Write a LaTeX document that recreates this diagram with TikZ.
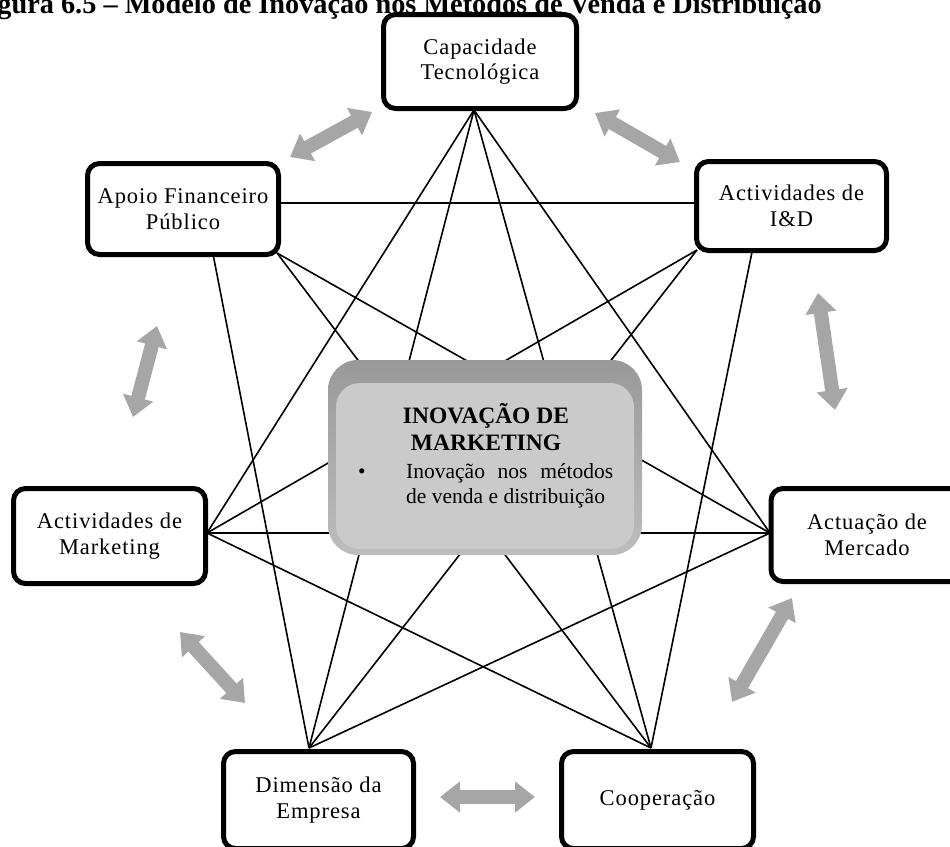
\documentclass[tikz,border=0pt]{standalone}
\usepackage{fontspec}
\setmainfont{Liberation Serif}
\usetikzlibrary{arrows.meta}

\definecolor{flowgray}{HTML}{A6A6A6}
\definecolor{rimtop}{HTML}{999999}
\definecolor{rimbottom}{HTML}{BDBDBD}
\definecolor{facegray}{HTML}{CACACA}

\tikzset{
  factor/.style={draw=black, line width=5pt, rounded corners=12pt, fill=white,
    inner sep=0pt, align=center,
    font=\fontsize{22.5}{25.5}\selectfont\addfontfeature{LetterSpace=4}},
  link/.style={line width=1.6pt, black},
  flow/.style={line width=14pt, flowgray,
    {Triangle[width=30pt,length=20pt]}-{Triangle[width=30pt,length=20pt]}},
  coretext/.style={font=\fontsize{21.5}{25}\selectfont, inner sep=0pt}
}

\begin{document}
\begin{tikzpicture}[x=1pt,y=-1pt]
\useasboundingbox (0,0) rectangle (950,846);
\clip (0,0) rectangle (950,846);

% caption of the figure
\node[anchor=base east, inner sep=0pt, font=\fontsize{28.3}{32}\selectfont\bfseries]
  (caption) at (822,13.5) {Figura 6.5 – Modelo de Inovação nos Métodos de Venda e Distribuição};

% connection points on the factor boxes
\coordinate (capH) at (474,110);
\coordinate (apoD) at (213,254);
\coordinate (apoC) at (277,253);
\coordinate (apoE) at (280,203);
\coordinate (indW) at (695,203);
\coordinate (indC) at (697,250);
\coordinate (indD) at (752,252);
\coordinate (mktH) at (207,533);
\coordinate (actH) at (770,533);
\coordinate (dimH) at (309,748);
\coordinate (cooH) at (651,748);

% links between non-neighbouring factors
\draw[link] (capH) -- (mktH);
\draw[link] (capH) -- (dimH);
\draw[link] (capH) -- (cooH);
\draw[link] (capH) -- (actH);
\draw[link] (apoE) -- (indW);
\draw[link] (apoD) -- (dimH);
\draw[link] (apoC) -- (actH);
\draw[link] (apoC) -- (cooH);
\draw[link] (indC) -- (mktH);
\draw[link] (indC) -- (dimH);
\draw[link] (indD) -- (cooH);
\draw[link] (mktH) -- (actH);
\draw[link] (mktH) -- (cooH);
\draw[link] (actH) -- (dimH);

% central bevelled box
\node[rounded corners=30pt, top color=rimtop, bottom color=rimbottom,
      minimum width=314pt, minimum height=195pt, inner sep=0pt] (coreRim) at (485,457.5) {};
\node[rounded corners=24pt, fill=facegray,
      minimum width=298pt, minimum height=166pt, inner sep=0pt] (core) at (485,466) {};
\node[anchor=base, inner sep=0pt, font=\fontsize{23.5}{27}\selectfont\bfseries]
  (coreA) at (486,423) {INOVAÇÃO DE};
\node[anchor=base, inner sep=0pt, font=\fontsize{23.5}{27}\selectfont\bfseries]
  (coreB) at (486,450) {MARKETING};
\node[coretext, anchor=base] (dot) at (362,478) {\textbullet};
\node[coretext, anchor=base west] (coreC) at (406,478) {\makebox[207pt][s]{Inovação nos métodos}};
\node[coretext, anchor=base west] (coreD) at (406,503) {de venda e distribuição};

% factor boxes
\node[factor, minimum width=193pt, minimum height=94pt] (cap) at (480,61.5) {Capacidade\\Tecnológica};
\node[factor, minimum width=191pt, minimum height=91pt] (apo) at (183,209) {Apoio Financeiro\\Público};
\node[factor, minimum width=190pt, minimum height=89pt] (ind) at (791.5,206) {Actividades de\\I\&D};
\node[factor, minimum width=192pt, minimum height=95pt] (mkt) at (109.5,536) {Actividades de\\Marketing};
\node[factor, minimum width=192pt, minimum height=93pt] (act) at (867,535) {Actuação de\\Mercado};
\node[factor, minimum width=190pt, minimum height=97pt] (dim) at (318.5,800) {Dimensão da\\Empresa};
\node[factor, minimum width=192pt, minimum height=97pt] (coo) at (657.5,800) {Cooperação};

% mutual influence between neighbouring factors
\coordinate (f1a) at (290,157);  \coordinate (f1b) at (372,112);
\coordinate (f2a) at (595,113);  \coordinate (f2b) at (680,162);
\coordinate (f3a) at (818,293);  \coordinate (f3b) at (835,410);
\coordinate (f4a) at (792,598);  \coordinate (f4b) at (732,702);
\coordinate (f5a) at (440,797);  \coordinate (f5b) at (535,797);
\coordinate (f6a) at (180,632);  \coordinate (f6b) at (245,703);
\coordinate (f7a) at (157,326);  \coordinate (f7b) at (133,417);
\draw[flow] (f1a) -- (f1b);
\draw[flow] (f2a) -- (f2b);
\draw[flow] (f3a) -- (f3b);
\draw[flow] (f4a) -- (f4b);
\draw[flow] (f5a) -- (f5b);
\draw[flow] (f6a) -- (f6b);
\draw[flow] (f7a) -- (f7b);
\end{tikzpicture}
\end{document}
